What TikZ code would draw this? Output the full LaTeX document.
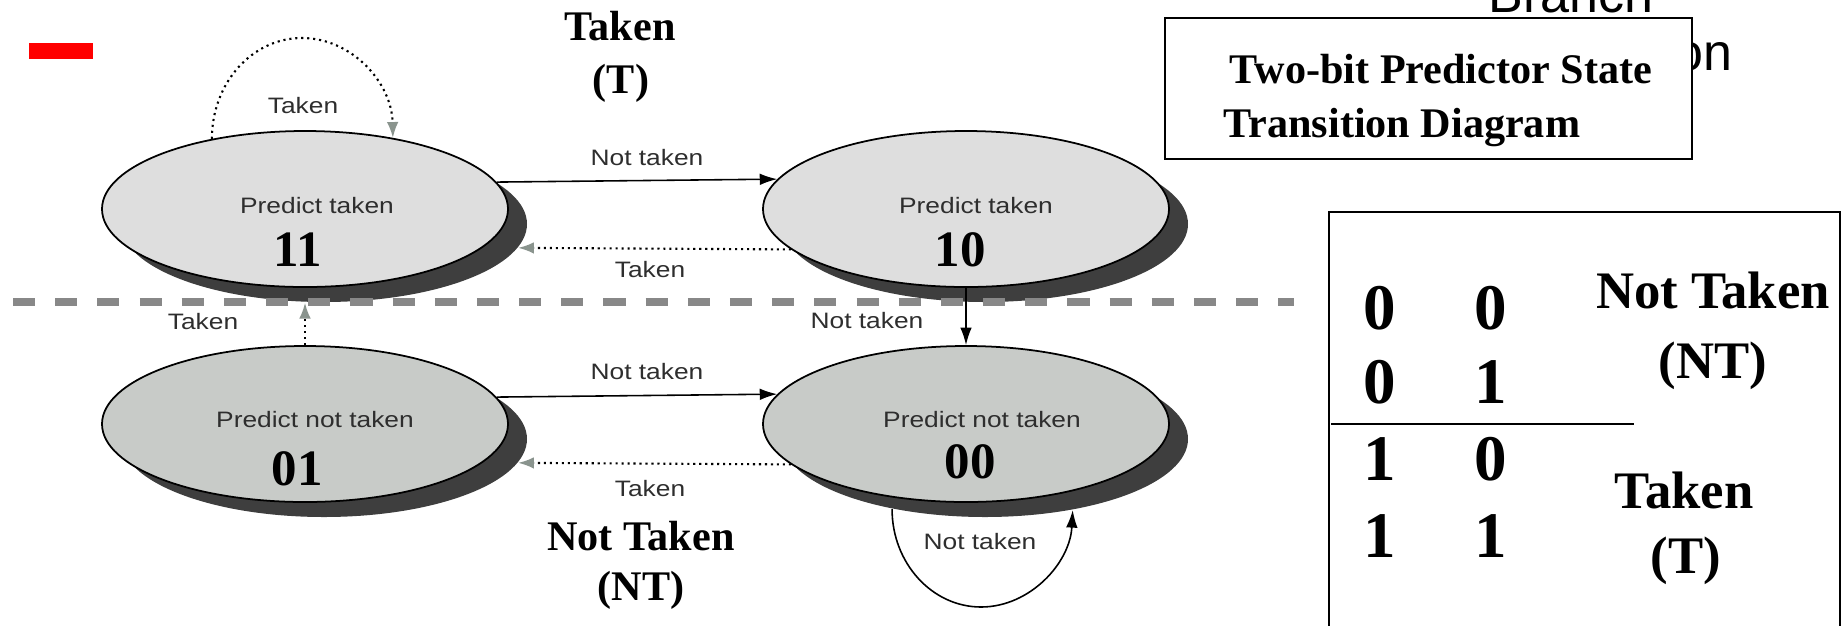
\documentclass[tikz,border=0pt]{standalone}
\usepackage{fontspec}
\setmainfont{Liberation Serif}
\setsansfont{Liberation Sans}
\usetikzlibrary{positioning,arrows.meta,shapes.geometric}

\definecolor{upfill}{RGB}{222,222,222}
\definecolor{lowfill}{RGB}{200,203,200}
\definecolor{shadowgray}{RGB}{62,62,62}
\definecolor{tipgray}{RGB}{138,148,142}
\definecolor{cutgray}{RGB}{136,136,136}

\newcommand{\wide}[1]{\scalebox{1.18}[1]{#1}}

\begin{document}
\begin{tikzpicture}[x=0.1mm,y=-0.1mm,every node/.style={inner sep=0pt},
	state/.style={draw=black,line width=0.5pt,ellipse,minimum width=40.6mm,minimum height=15.6mm},
	shadowell/.style={ellipse,fill=shadowgray,minimum width=40.6mm,minimum height=15.6mm},
	lab/.style={font=\sffamily\fontsize{6.35}{7}\selectfont,text=black!82},
	num/.style={font=\bfseries\fontsize{14.5}{16}\selectfont,anchor=base},
	big/.style={font=\bfseries\fontsize{12}{14}\selectfont,anchor=base},
	dig/.style={font=\bfseries\fontsize{18.5}{20}\selectfont,anchor=base},
	word/.style={font=\bfseries\fontsize{15}{17}\selectfont,anchor=base},
	go/.style={draw,line width=0.45pt,-{Latex[length=5pt,width=3.3pt]}},
	back/.style={draw,line width=0.6pt,dash pattern=on 0.6pt off 1.1pt,-{Latex[length=4.5pt,width=3.3pt,color=tipgray]}}]

\useasboundingbox (0,0) rectangle (1845,625);
\fill[red] (29,43) rectangle (93,59);

\node[shadowell] (h11) at (324,224) {};
\node[shadowell] (h10) at (985,224) {};
\node[shadowell] (h01) at (324,439) {};
\node[shadowell] (h00) at (985,439) {};
\node[state,fill=upfill] (s11) at (305,209) {};
\node[state,fill=upfill] (s10) at (966,209) {};
\node[state,fill=lowfill] (s01) at (305,424) {};
\node[state,fill=lowfill] (s00) at (966,424) {};

\draw[cutgray,line width=2pt,dash pattern=on 6.3pt off 5.7pt] (13,302) -- (1294,302);

\draw[go] (s11.8.4) -- (s10.171.6);
\draw[back] (s10.-167.6) -- (h11.-7.1);
\draw[go] (s01.8.4) -- (s00.171.6);
\draw[back] (s00.-167.6) -- (h01.-7.1);
\draw[go] (s10.south) -- (s00.north);
\draw[back] (s01.north) -- (s01.north |- h11.south);
\draw[back] (s11.143) .. controls (212,83) and (252,38) .. (302,38) .. controls (352,38) and (392,83) .. (s11.39);
\draw[go] (h00.-143) .. controls (892,563) and (932,607) .. (981,607) .. controls (1030,607) and (1070,563) .. (h00.-39.5);

\node[lab] (l1) at (303,106) {\wide{Taken}};
\node[lab] (l2) at (647,158) {\wide{Not taken}};
\node[lab] (l3) at (650,270) {\wide{Taken}};
\node[lab] (l4) at (867,321) {\wide{Not taken}};
\node[lab] (l5) at (203,322) {\wide{Taken}};
\node[lab] (l6) at (647,372) {\wide{Not taken}};
\node[lab] (l7) at (650,489) {\wide{Taken}};
\node[lab] (l8) at (980,542) {\wide{Not taken}};

\node[lab] (p11) at (317,206) {\wide{Predict taken}};
\node[lab] (p10) at (976,206) {\wide{Predict taken}};
\node[lab] (p01) at (315,420) {\wide{Predict not taken}};
\node[lab] (p00) at (982,420) {\wide{Predict not taken}};
\node[num] (n11) at (298,266) {11};
\node[num] (n10) at (960,266) {10};
\node[num] (n01) at (297,485) {01};
\node[num] (n00) at (970,478) {00};

\node[big] (top1) at (620,40) {Taken};
\node[big] (top2) at (621,93) {(T)};
\node[big] (bot1) at (641,550) {Not Taken};
\node[big] (bot2) at (641,600) {(NT)};

\node[font=\sffamily\fontsize{14.8}{16}\selectfont,anchor=base west] (head1) at (1488,12) {Branch};
\node[font=\sffamily\fontsize{14.8}{16}\selectfont,anchor=base west] (head2) at (1674,70) {on};
\draw[line width=0.7pt,fill=white] (1165,18) rectangle (1692,159);
\node[big,anchor=base west] (cap1) at (1229,83) {Two-bit Predictor State};
\node[big,anchor=base west] (cap2) at (1223,137) {Transition Diagram};

\draw[line width=0.6pt] (1329,640) -- (1329,212) -- (1840,212) -- (1840,640);
\draw[line width=0.6pt] (1331,424) -- (1634,424);
\foreach \a/\b/\y in {0/0/329,0/1/403,1/0/480,1/1/557}{
	\node[dig] (c\y a) at (1380,\y) {\a};
	\node[dig] (c\y b) at (1491,\y) {\b};
}
\node[word] (w1) at (1713,308) {Not Taken};
\node[word] (w2) at (1713,378) {(NT)};
\node[word] (w3) at (1684,508) {Taken};
\node[word] (w4) at (1686,573) {(T)};

\end{tikzpicture}
\end{document}
